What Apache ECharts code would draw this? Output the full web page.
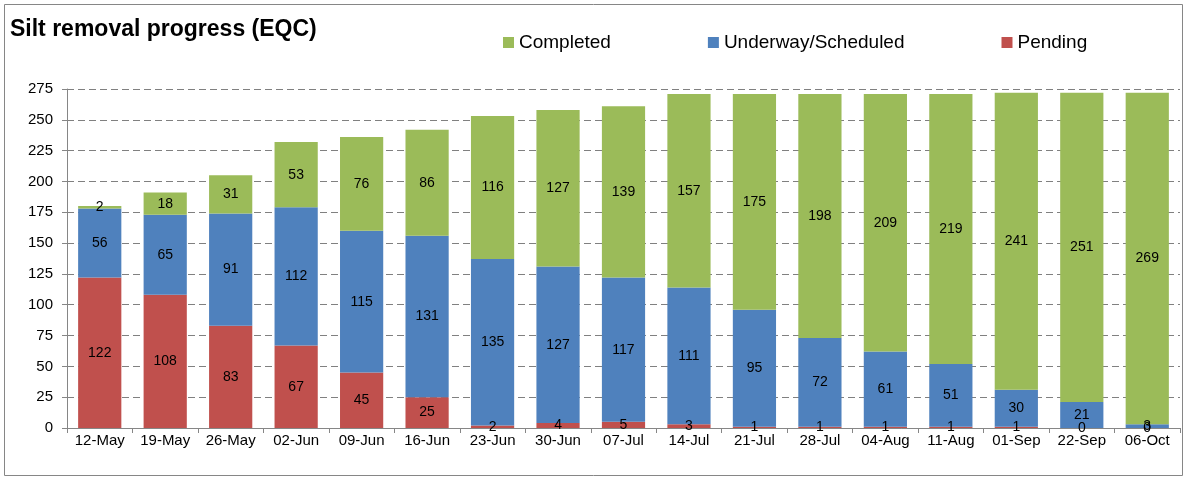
<!DOCTYPE html>
<html>
<head>
<meta charset="utf-8">
<script src="https://cdn.jsdelivr.net/npm/echarts@6/dist/echarts.min.js"></script>
<style>
  html, body { margin: 0; padding: 0; background: #fff; }
  #chart { width: 1188px; height: 480px; }
</style>
</head>
<body>
<div id="chart"></div>
<script>
  const weeks = ['12-May', '19-May', '26-May', '02-Jun', '09-Jun', '16-Jun', '23-Jun', '30-Jun', '07-Jul',
    '14-Jul', '21-Jul', '28-Jul', '04-Aug', '11-Aug', '01-Sep', '22-Sep', '06-Oct']
  const pending = [122, 108, 83, 67, 45, 25, 2, 4, 5, 3, 1, 1, 1, 1, 1, 0, 0]
  const underway = [56, 65, 91, 112, 115, 131, 135, 127, 117, 111, 95, 72, 61, 51, 30, 21, 3]
  const completed = [2, 18, 31, 53, 76, 86, 116, 127, 139, 157, 175, 198, 209, 219, 241, 251, 269]

  const font = 'Liberation Sans, Arial, sans-serif'
  const lbl = { show: true, position: 'inside', color: '#000', fontSize: 14, fontFamily: font }

  let myChart = echarts.init(document.getElementById('chart'))
  myChart.setOption({
    backgroundColor: '#fff',
    animation: false,
    graphic: [{
      type: 'rect',
      shape: { x: 4.5, y: 4.5, width: 1178, height: 471 },
      style: { fill: 'none', stroke: '#868686', lineWidth: 1 }
    }],
    title: {
      text: 'Silt removal progress (EQC)',
      left: 5, top: 13,
      textStyle: { fontSize: 23, fontWeight: 'bold', color: '#000', fontFamily: font }
    },
    legend: {
      top: 28, left: 498,
      itemGap: 97,
      itemWidth: 11, itemHeight: 11,
      icon: 'rect',
      textStyle: { fontSize: 19, color: '#000', fontFamily: font },
      data: ['Completed', 'Underway/Scheduled', 'Pending']
    },
    grid: { left: 67, right: 8, top: 89, bottom: 52 },
    xAxis: {
      type: 'category',
      data: weeks,
      axisLine: { lineStyle: { color: '#868686' } },
      axisTick: { show: true, length: 5, lineStyle: { color: '#868686' } },
      axisLabel: { color: '#000', fontSize: 15, fontFamily: font, margin: 5 }
    },
    yAxis: {
      type: 'value',
      min: 0, max: 275, interval: 25,
      axisLine: { show: true, lineStyle: { color: '#868686' } },
      axisTick: { show: true, length: 5, lineStyle: { color: '#868686' } },
      axisLabel: { color: '#000', fontSize: 15, fontFamily: font, margin: 14 },
      splitLine: { lineStyle: { color: '#808080', type: [7, 4] } }
    },
    series: [
      {
        name: 'Pending', type: 'bar', stack: 'all', data: pending,
        barCategoryGap: '34%',
        itemStyle: { color: '#c0504d' }, label: lbl
      },
      {
        name: 'Underway/Scheduled', type: 'bar', stack: 'all', data: underway,
        itemStyle: { color: '#4f81bd' }, label: lbl
      },
      {
        name: 'Completed', type: 'bar', stack: 'all', data: completed,
        itemStyle: { color: '#9bbb59' }, label: lbl
      }
    ]
  })
</script>
</body>
</html>
